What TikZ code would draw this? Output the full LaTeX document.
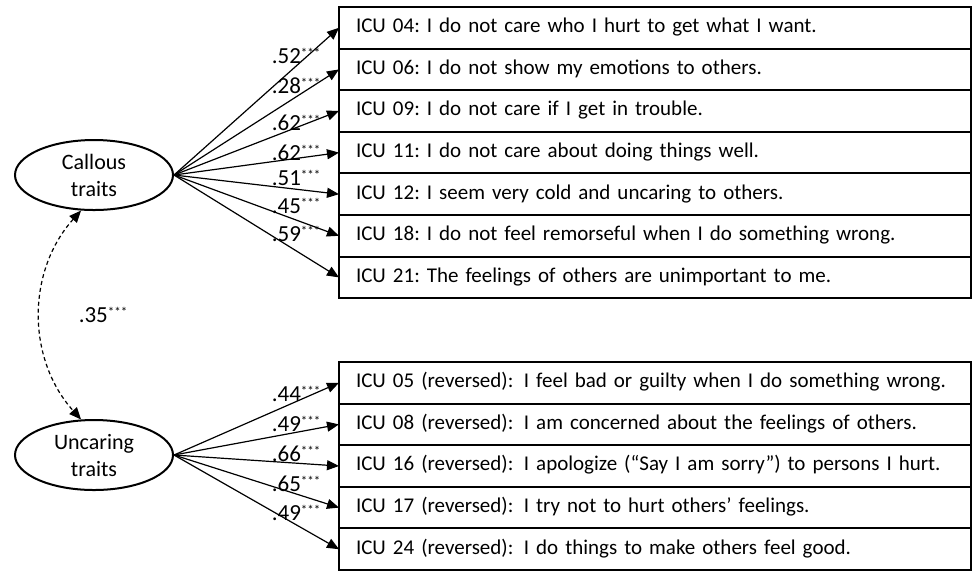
\documentclass[tikz,border=0pt]{standalone}
\usepackage{fontspec}
\setmainfont{Carlito}
\usetikzlibrary{shapes.geometric,arrows.meta,positioning}
\tikzstyle{item} = [rectangle, draw, line width=1pt, outer sep=0pt, minimum width=316pt, minimum height=20.8pt, text width=314pt, align=left, inner xsep=1pt, inner ysep=0pt, text height=7.2pt, text depth=2.4pt, execute at begin node={\frenchspacing\hspace*{7.5pt}}]
\tikzstyle{latent} = [ellipse, draw, line width=1pt, minimum width=79pt, minimum height=35pt, align=center, inner sep=0pt, font=\fontsize{11}{13.5}\selectfont]
\tikzstyle{loading} = [->, line width=0.6pt]
\tikzstyle{coef} = [pos=0.74, anchor=center, inner sep=0pt, font=\fontsize{11.5}{13}\selectfont]
\newcommand{\sig}{\raisebox{3pt}{\fontsize{6.5}{7}\selectfont ***}}

\begin{document}
\begin{tikzpicture}[>={Triangle[length=6pt,width=5pt]}, font=\fontsize{10.5}{13.5}\selectfont]
    \useasboundingbox (0,0) rectangle (489pt,-285pt);
    \node[latent] (callous) at (47pt,-87.5pt) {Callous\\traits};
    \node[latent] (uncaring) at (47pt,-227.5pt) {Uncaring\\traits};

    % callous items
    \node[item, anchor=north west] (i04) at (169.5pt,-3.5pt) {ICU 04: I do not care who I hurt to get what I want.};
    \node[item, below=0pt of i04] (i06) {ICU 06: I do not show my emotions to others.};
    \node[item, below=0pt of i06] (i09) {ICU 09: I do not care if I get in trouble.};
    \node[item, below=0pt of i09] (i11) {ICU 11: I do not care about doing things well.};
    \node[item, below=0pt of i11] (i12) {ICU 12: I seem very cold and uncaring to others.};
    \node[item, below=0pt of i12] (i18) {ICU 18: I do not feel remorseful when I do something wrong.};
    \node[item, below=0pt of i18] (i21) {ICU 21: The feelings of others are unimportant to me.};

    % uncaring items
    \node[item, anchor=north west] (i05) at (169.5pt,-181pt) {ICU 05 (reversed):\, I feel bad or guilty when I do something wrong.};
    \node[item, below=0pt of i05] (i08) {ICU 08 (reversed):\, I am concerned about the feelings of others.};
    \node[item, below=0pt of i08] (i16) {ICU 16 (reversed):\, I apologize (“Say I am sorry”) to persons I hurt.};
    \node[item, below=0pt of i16] (i17) {ICU 17 (reversed):\, I try not to hurt others’ feelings.};
    \node[item, below=0pt of i17] (i24) {ICU 24 (reversed):\, I do things to make others feel good.};

    \draw[loading] (callous.east) -- node[coef, yshift=5.2pt] {.52\sig} (i04.west);
    \draw[loading] (callous.east) -- node[coef, yshift=5.4pt] {.28\sig} (i06.west);
    \draw[loading] (callous.east) -- node[coef, yshift=2.6pt] {.62\sig} (i09.west);
    \draw[loading] (callous.east) -- node[coef, yshift=3pt] {.62\sig} (i11.west);
    \draw[loading] (callous.east) -- node[coef, yshift=5.4pt] {.51\sig} (i12.west);
    \draw[loading] (callous.east) -- node[coef, yshift=6.8pt] {.45\sig} (i18.west);
    \draw[loading] (callous.east) -- node[coef, yshift=8.2pt] {.59\sig} (i21.west);

    \draw[loading] (uncaring.east) -- node[coef, yshift=3.8pt] {.44\sig} (i05.west);
    \draw[loading] (uncaring.east) -- node[coef, yshift=4.2pt] {.49\sig} (i08.west);
    \draw[loading] (uncaring.east) -- node[coef, yshift=4.6pt] {.66\sig} (i16.west);
    \draw[loading] (uncaring.east) -- node[coef, yshift=5pt] {.65\sig} (i17.west);
    \draw[loading] (uncaring.east) -- node[coef, yshift=5.7pt] {.49\sig} (i24.west);

    % correlation
    \draw[<->, line width=0.6pt, dash pattern=on 2pt off 1.5pt] (callous.250) to[bend right=42] node[coef, pos=0.5, anchor=west, right=19pt] {.35\sig} (uncaring.110);
\end{tikzpicture}
\end{document}
